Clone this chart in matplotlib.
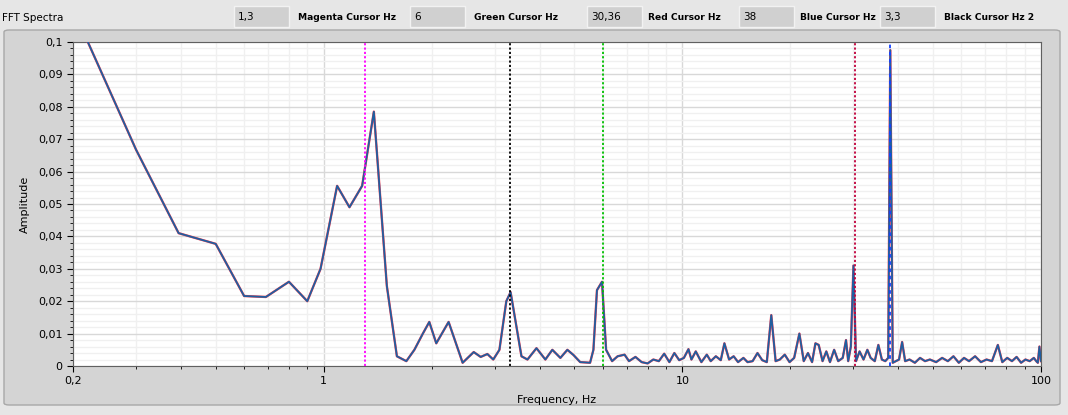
import matplotlib
matplotlib.use("Agg")
import matplotlib.pyplot as plt
from matplotlib.ticker import FuncFormatter, MultipleLocator, FixedLocator, NullFormatter
from matplotlib.patches import FancyBboxPatch

freq_low = [0.2, 0.22, 0.30, 0.394, 0.50, 0.60, 0.69, 0.80, 0.90, 0.98, 1.09, 1.18, 1.28, 1.38,
            1.50, 1.60, 1.70, 1.79, 1.89, 1.97, 2.06, 2.23, 2.44, 2.62, 2.74, 2.86, 2.97, 3.09,
            3.23, 3.32, 3.45, 3.56, 3.70, 3.92, 4.15, 4.34, 4.57, 4.78, 4.97, 5.19, 5.53, 5.65,
            5.78, 5.97, 6.13, 6.37]
amp_low = [0.105, 0.1, 0.0667, 0.041, 0.0377, 0.0216, 0.0213, 0.026, 0.020, 0.030, 0.0556, 0.049,
           0.0556, 0.0785, 0.0247, 0.003, 0.0015, 0.005, 0.010, 0.0136, 0.007, 0.0136, 0.001,
           0.0043, 0.0028, 0.0037, 0.002, 0.005, 0.020, 0.0228, 0.012, 0.003, 0.002, 0.0055,
           0.002, 0.005, 0.0025, 0.005, 0.0034, 0.0012, 0.001, 0.005, 0.0234, 0.026, 0.005, 0.0015]
freq_high = [6.6, 6.9, 7.1, 7.4, 7.7, 8.0, 8.3, 8.6, 8.9, 9.2, 9.5, 9.8, 10.1, 10.4, 10.6, 10.9,
             11.3, 11.7, 12.0, 12.4, 12.8, 13.1, 13.5, 13.9, 14.3, 14.8, 15.2, 15.7, 16.2, 16.7,
             17.2, 17.7, 18.2, 18.7, 19.3, 19.9, 20.5, 21.2, 21.8, 22.4, 23.0, 23.5, 24.0, 24.6,
             25.2, 25.8, 26.5, 27.2, 28.0, 28.6, 29.0, 29.5, 30.0, 30.5, 31.2, 32.0, 32.8, 33.5,
             34.4, 35.2, 36.0, 36.8, 37.5, 38.0, 38.6, 39.4, 40.2, 41.0, 41.8, 43.0, 44.5, 46.0,
             47.5, 49.0, 51.0, 53.0, 55.0, 57.0, 59.0, 61.0, 63.0, 65.5, 68.0, 70.5, 73.0, 75.8,
             78.0, 80.5, 83.0, 85.5, 88.0, 90.5, 93.0, 95.5, 97.0, 98.0, 99.0, 100.0]
amp_high = [0.003, 0.0035, 0.0015, 0.0028, 0.0012, 0.0008, 0.002, 0.0015, 0.0038, 0.0012, 0.004,
            0.0018, 0.0025, 0.0052, 0.002, 0.0045, 0.0012, 0.0035, 0.0015, 0.003, 0.0018, 0.007,
            0.002, 0.003, 0.0012, 0.0025, 0.0012, 0.0015, 0.004, 0.0018, 0.0012, 0.0157, 0.0015,
            0.002, 0.0035, 0.0012, 0.0025, 0.010, 0.0015, 0.004, 0.0012, 0.007, 0.0065, 0.0015,
            0.0045, 0.0012, 0.005, 0.0015, 0.0025, 0.008, 0.0015, 0.006, 0.031, 0.0015, 0.0045,
            0.002, 0.005, 0.0025, 0.0015, 0.0065, 0.002, 0.0015, 0.0025, 0.0975, 0.001, 0.0015,
            0.002, 0.0074, 0.0015, 0.002, 0.001, 0.0025, 0.0015, 0.002, 0.0012, 0.0025, 0.0015,
            0.003, 0.001, 0.0025, 0.0015, 0.003, 0.0012, 0.002, 0.0015, 0.0065, 0.0012, 0.0025,
            0.0015, 0.0028, 0.001, 0.002, 0.0015, 0.0025, 0.0015, 0.001, 0.006, 0.0015]
freqs = freq_low + freq_high
amps = amp_low + amp_high

cursor_names = ["Magenta Cursor Hz", "Green Cursor Hz", "Red Cursor Hz", "Blue Cursor Hz", "Black Cursor Hz 2"]
cursor_values = [1.3, 6, 30.36, 38, 3.3]
cursor_labels = ["1,3", "6", "30,36", "38", "3,3"]
cursor_colors = ["#ff00ff", "#00c000", "#c0003c", "#1040ff", "#000000"]

W, H = 1068, 415
fig = plt.figure(figsize=(W/100, H/100), dpi=100)
fig.patch.set_facecolor("#e6e6e6")
fig.patches.append(FancyBboxPatch((4/W, 10/H), 1056/W, 375/H, boxstyle="round,pad=0,rounding_size=0.005",
                                  transform=fig.transFigure, facecolor="#d4d4d4", edgecolor="#a8a8a8", lw=1, zorder=0))
fig.text(2/W, 1-18/H, "FFT Spectra", fontsize=7.5, va="center", ha="left")
box_x = [234, 410, 587, 739, 880]
name_x = [298, 474, 648, 800, 944]
for bx, nx, lab, nm in zip(box_x, name_x, cursor_labels, cursor_names):
    fig.patches.append(FancyBboxPatch((bx/W, 1-27/H), 55/W, 21/H, boxstyle="square,pad=0",
                                      transform=fig.transFigure, facecolor="#d0d0d0", edgecolor="#f2f2f2", lw=1))
    fig.text((bx+4)/W, 1-17/H, lab, fontsize=7.5, va="center", ha="left")
    fig.text(nx/W, 1-17/H, nm, fontsize=6.6, va="center", ha="left", fontweight="bold")

ax = fig.add_axes([73/W, 1-366/H, 968/W, 324/H])
ax.set_zorder(3)
ax.set_facecolor("white")
ax.set_xscale("log")
ax.set_xlim(0.2, 100)
ax.set_ylim(0, 0.1)
ax.plot(freqs, amps, color="#ff4050", lw=1.7, zorder=3)
ax.plot(freqs, amps, color="#1f5fa0", lw=1.3, zorder=4)
for v, c in zip(cursor_values, cursor_colors):
    ax.axvline(v, color=c, lw=1.3, ls=(0, (1.2, 1.2)) if c != "#1040ff" else (0, (2, 2)), zorder=5)

ax.xaxis.set_major_locator(FixedLocator([0.2, 1, 10, 100]))
ax.xaxis.set_minor_locator(FixedLocator([m*10**e for e in (-1, 0, 1) for m in range(2, 10) if 0.2 < m*10**e < 100]))
ax.xaxis.set_major_formatter(FuncFormatter(lambda v, p: ("%g" % v).replace(".", ",")))
ax.xaxis.set_minor_formatter(NullFormatter())
ax.yaxis.set_major_locator(MultipleLocator(0.01))
ax.yaxis.set_minor_locator(MultipleLocator(0.002))
ax.yaxis.set_major_formatter(FuncFormatter(lambda v, p: "0" if abs(v) < 1e-9 else ("%g" % round(v, 3)).replace(".", ",")))
ax.grid(True, which="major", color="#d8d8d8", lw=1)
ax.grid(True, which="minor", color="#f0f0f0", lw=1)
ax.set_axisbelow(True)
ax.tick_params(labelsize=8, length=4, colors="black")
ax.tick_params(which="minor", length=2)
for s in ax.spines.values():
    s.set_color("#606060")
ax.set_xlabel("Frequency, Hz", fontsize=8, labelpad=6)
ax.set_ylabel("Amplitude", fontsize=8, labelpad=6)

fig.savefig("out.png", dpi=100, facecolor=fig.get_facecolor())
